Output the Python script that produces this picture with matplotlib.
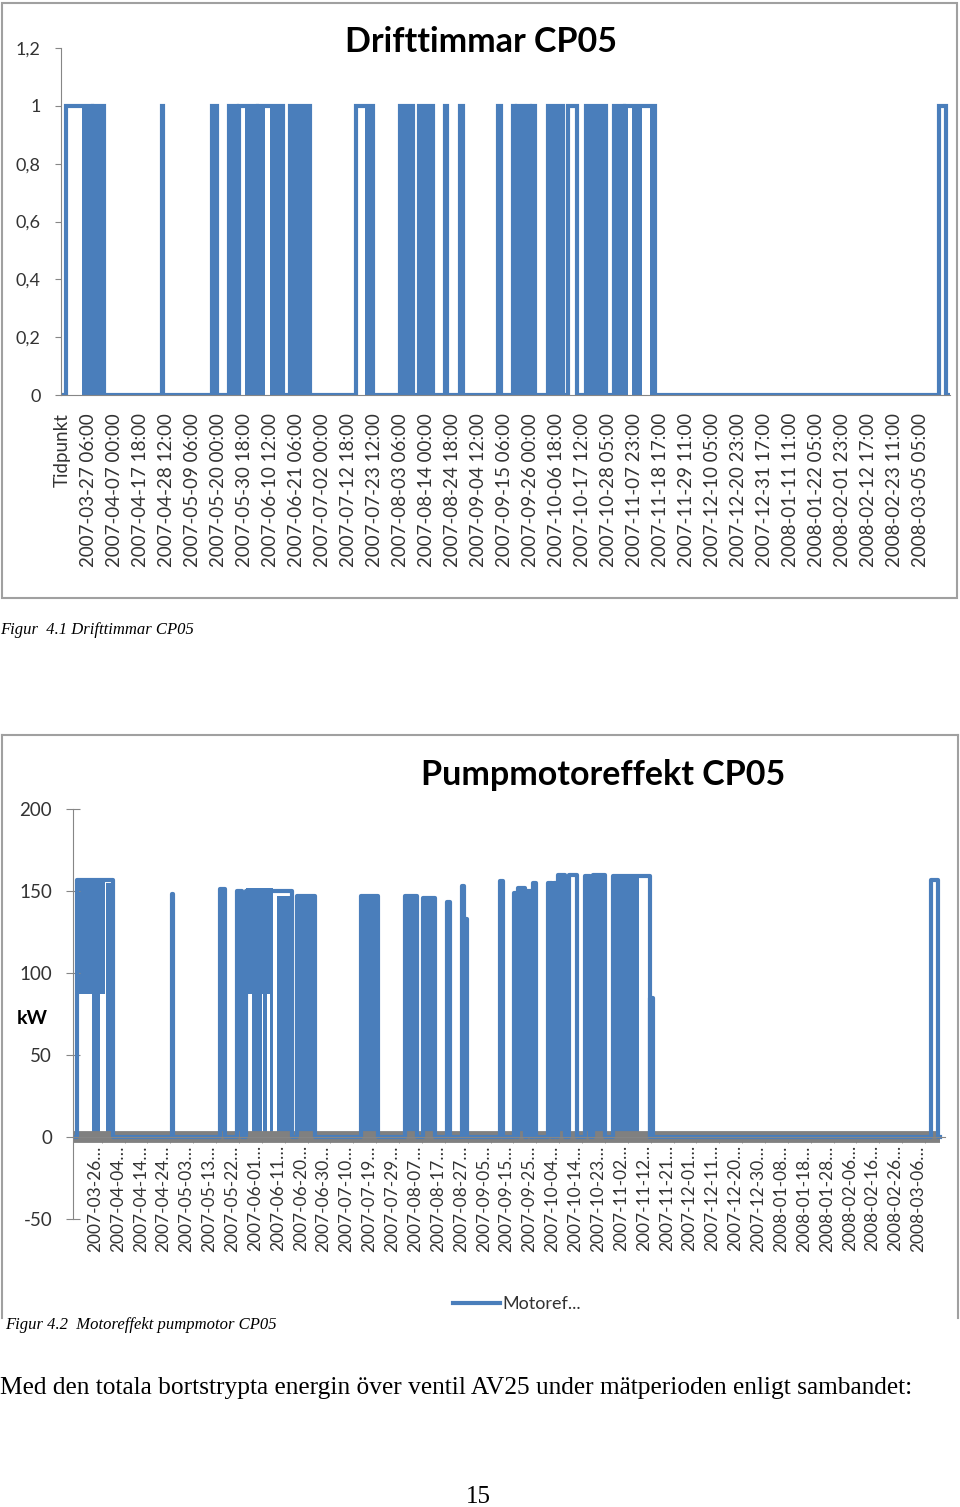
import matplotlib
matplotlib.use('Agg')
import matplotlib.pyplot as plt
from matplotlib.lines import Line2D

plt.rcParams['font.family'] = ['Lato', 'DejaVu Sans']
plt.rcParams['axes.unicode_minus'] = False

BLUE = '#4a7ebb'
GREY = '#868686'

# --- Drifttimmar CP05 (x = timme sedan start, 1 = i drift) ---
drift_labels = ['Tidpunkt',
                '2007-03-27 06:00', '2007-04-07 00:00', '2007-04-17 18:00', '2007-04-28 12:00',
                '2007-05-09 06:00', '2007-05-20 00:00', '2007-05-30 18:00', '2007-06-10 12:00',
                '2007-06-21 06:00', '2007-07-02 00:00', '2007-07-12 18:00', '2007-07-23 12:00',
                '2007-08-03 06:00', '2007-08-14 00:00', '2007-08-24 18:00', '2007-09-04 12:00',
                '2007-09-15 06:00', '2007-09-26 00:00', '2007-10-06 18:00', '2007-10-17 12:00',
                '2007-10-28 05:00', '2007-11-07 23:00', '2007-11-18 17:00', '2007-11-29 11:00',
                '2007-12-10 05:00', '2007-12-20 23:00', '2007-12-31 17:00', '2008-01-11 11:00',
                '2008-01-22 05:00', '2008-02-01 23:00', '2008-02-12 17:00', '2008-02-23 11:00',
                '2008-03-05 05:00']
drift_step = 258
drift_end = 8790
# perioder i drift (start, slut)
drift_on = [(40, 298), (308, 417), (992, 1005), (1488, 1538), (1657, 1736), (1756, 1934),
            (1944, 2192), (2262, 2460), (2916, 3085), (3353, 3482), (3541, 3680),
            (3799, 3819), (3948, 3978), (4325, 4355), (4474, 4494), (4514, 4643),
            (4662, 4692), (4821, 4970), (5020, 5109), (5198, 5396), (5476, 5575),
            (5585, 5883), (8700, 8769)]
# perioder med täta start/stopp (ser ut som fyllda block)
drift_dense = [(198, 298), (308, 417), (1488, 1538), (1657, 1736), (1815, 1934), (1944, 2014),
               (2063, 2192), (2262, 2460), (3006, 3085), (3353, 3482), (3541, 3680),
               (4514, 4643), (4821, 4970), (5198, 5396), (5476, 5575), (5585, 5615),
               (5654, 5754), (5833, 5883)]

# --- Pumpmotoreffekt CP05 (kW) ---
effekt_labels = ['2007-03-26…', '2007-04-04…', '2007-04-14…', '2007-04-24…', '2007-05-03…',
                 '2007-05-13…', '2007-05-22…', '2007-06-01…', '2007-06-11…', '2007-06-20…',
                 '2007-06-30…', '2007-07-10…', '2007-07-19…', '2007-07-29…', '2007-08-07…',
                 '2007-08-17…', '2007-08-27…', '2007-09-05…', '2007-09-15…', '2007-09-25…',
                 '2007-10-04…', '2007-10-14…', '2007-10-23…', '2007-11-02…', '2007-11-12…',
                 '2007-11-21…', '2007-12-01…', '2007-12-11…', '2007-12-20…', '2007-12-30…',
                 '2008-01-08…', '2008-01-18…', '2008-01-28…', '2008-02-06…', '2008-02-16…',
                 '2008-02-26…', '2008-03-06…']
effekt_first = 222
effekt_step = 231
effekt_end = 8760
# pulser (start, slut, kW)
effekt_pulses = [(40, 404, 157), (995, 1015, 148), (1485, 1535, 151), (1656, 1707, 150),
                 (1747, 2212, 150), (2262, 2444, 147), (2909, 3080, 147), (3353, 3474, 147),
                 (3535, 3656, 146), (3777, 3808, 143), (3929, 3949, 153), (3959, 3979, 133),
                 (4313, 4343, 156), (4454, 4484, 149), (4495, 4565, 152), (4585, 4626, 150),
                 (4646, 4676, 155), (4798, 4838, 155), (4858, 4888, 155), (4899, 4969, 160),
                 (5010, 5090, 160), (5171, 5222, 159), (5252, 5373, 160), (5454, 5828, 159),
                 (5828, 5858, 85), (8666, 8737, 157)]
# block med täta variationer (start, slut, lägsta, högsta)
effekt_dense = [(40, 192, 87, 158), (192, 273, 0, 158), (273, 323, 87, 158), (333, 404, 0, 155),
                (1485, 1535, 0, 151), (1656, 1707, 0, 150), (1747, 2020, 87, 152),
                (1808, 1909, 0, 150), (1919, 1959, 0, 150), (1990, 2020, 0, 148),
                (2060, 2212, 0, 147), (2262, 2444, 0, 147), (2909, 3080, 0, 147),
                (3353, 3474, 0, 147), (3535, 3656, 0, 146), (4495, 4565, 0, 152),
                (4585, 4626, 0, 150), (4798, 4838, 0, 155), (4899, 4969, 0, 160),
                (5171, 5222, 0, 159), (5252, 5373, 0, 160), (5454, 5717, 0, 159)]


def step_xy(pulses, end):
    xs, ys = [0], [0]
    for p in pulses:
        s, e, v = p if len(p) == 3 else (p[0], p[1], 1)
        xs += [s, s, e, e]
        ys += [0, v, v, 0]
    xs.append(end)
    ys.append(0)
    return xs, ys


fig = plt.figure(figsize=(9.6, 15.07), dpi=100)
H = 1507.0
W = 960.0

# ramar runt diagrammen
fig.add_artist(plt.Rectangle((2 / W, 1 - 598 / H), 955 / W, 595 / H, transform=fig.transFigure,
                             fill=False, edgecolor='#a0a0a0', lw=1.5))
for xs, ys in [([2, 2], [735, 1318]), ([2, 958], [735, 735]), ([958, 958], [735, 1318])]:
    fig.add_artist(Line2D([x / W for x in xs], [1 - y / H for y in ys], color='#a0a0a0', lw=1.5))

# ---- diagram 1 ----
ax1 = fig.add_axes([61 / W, 1 - 395 / H, 889 / W, 347 / H])
x, y = step_xy(drift_on, drift_end)
for s, e in drift_dense:
    ax1.fill_between([s, e], [0, 0], [1, 1], color=BLUE, lw=0)
ax1.plot(x, y, color=BLUE, lw=3, solid_joinstyle='miter')
ax1.set_xlim(-10, 8810)
ax1.set_ylim(0, 1.2)
ax1.set_yticks([0, 0.2, 0.4, 0.6, 0.8, 1.0, 1.2])
ax1.set_yticklabels(['0', '0,2', '0,4', '0,6', '0,8', '1', '1,2'])
ax1.set_xticks([i * drift_step for i in range(len(drift_labels))])
ax1.set_xticklabels(drift_labels)
ax1.tick_params(axis='y', length=4.5, color=GREY, labelsize=13, pad=10, labelcolor='#333333')
ax1.tick_params(axis='x', length=0, labelsize=13.5, pad=13, labelcolor='#333333',
                labelrotation=90)
for sp in ['top', 'right']:
    ax1.spines[sp].set_visible(False)
for sp in ['left', 'bottom']:
    ax1.spines[sp].set_color(GREY)
fig.text(481 / W, 1 - 42 / H, 'Drifttimmar CP05', ha='center', va='center',
         fontsize=24.5, fontweight='bold')

# ---- diagram 2 ----
ax2 = fig.add_axes([73 / W, 1 - 1219 / H, 872 / W, 410 / H])
ax2.plot([0, effekt_end], [0, 0], color='#808080', lw=8.5, solid_capstyle='butt')
for s, e, lo, hi in effekt_dense:
    ax2.fill_between([s, e], [lo, lo], [hi, hi], color=BLUE, lw=0)
x, y = step_xy(effekt_pulses, effekt_end)
ax2.plot(x, y, color=BLUE, lw=3, label='Motoref...')
ax2.set_xlim(0, 8807)
ax2.set_ylim(-50, 200)
ax2.set_yticks([-50, 0, 50, 100, 150, 200])
ax2.set_yticklabels(['-50', '0', '50', '100', '150', '200'])
major = [effekt_first + i * effekt_step for i in range(len(effekt_labels))]
ax2.set_xticks(major)
ax2.set_xticklabels(effekt_labels)
ax2.set_xticks([m + 68 for m in major], minor=True)
ax2.tick_params(axis='x', which='major', length=0, labelsize=12.5, pad=6, labelcolor='#333333',
                labelrotation=90)
ax2.tick_params(axis='x', which='minor', length=4, color=GREY)
ax2.tick_params(axis='y', direction='inout', length=10, color=GREY, labelsize=13.5, pad=10,
                labelcolor='#333333')
for sp in ['top', 'right']:
    ax2.spines[sp].set_visible(False)
ax2.spines['bottom'].set_position(('data', 0))
ax2.spines['bottom'].set_color(GREY)
ax2.spines['left'].set_color(GREY)
ax2.legend(loc='center', bbox_to_anchor=(517 / W, 1 - 1304 / H), bbox_transform=fig.transFigure,
           frameon=False, fontsize=13, handlelength=2.6, handletextpad=0.15,
           labelcolor='#333333')
fig.text(603 / W, 1 - 775 / H, 'Pumpmotoreffekt CP05', ha='center', va='center',
         fontsize=24.5, fontweight='bold')
fig.text(32 / W, 1 - 1018 / H, 'kW', ha='center', va='center', fontsize=14, fontweight='bold')

# ---- texter på sidan ----
serif = ['Liberation Serif', 'DejaVu Serif']
fig.text(0, 1 - 630 / H, 'Figur  4.1 Drifttimmar CP05', family=serif, style='italic',
         fontsize=12, va='center')
fig.text(5 / W, 1 - 1325 / H, 'Figur 4.2  Motoreffekt pumpmotor CP05', family=serif,
         style='italic', fontsize=12, va='center')
fig.text(0, 1 - 1388 / H,
         'Med den totala bortstrypta energin över ventil AV25 under mätperioden enligt sambandet:',
         family=serif, fontsize=18.3, va='center')
fig.text(478 / W, 1 - 1497 / H, '15', family=serif, fontsize=18, ha='center', va='center')

fig.savefig('out.png', dpi=100)
